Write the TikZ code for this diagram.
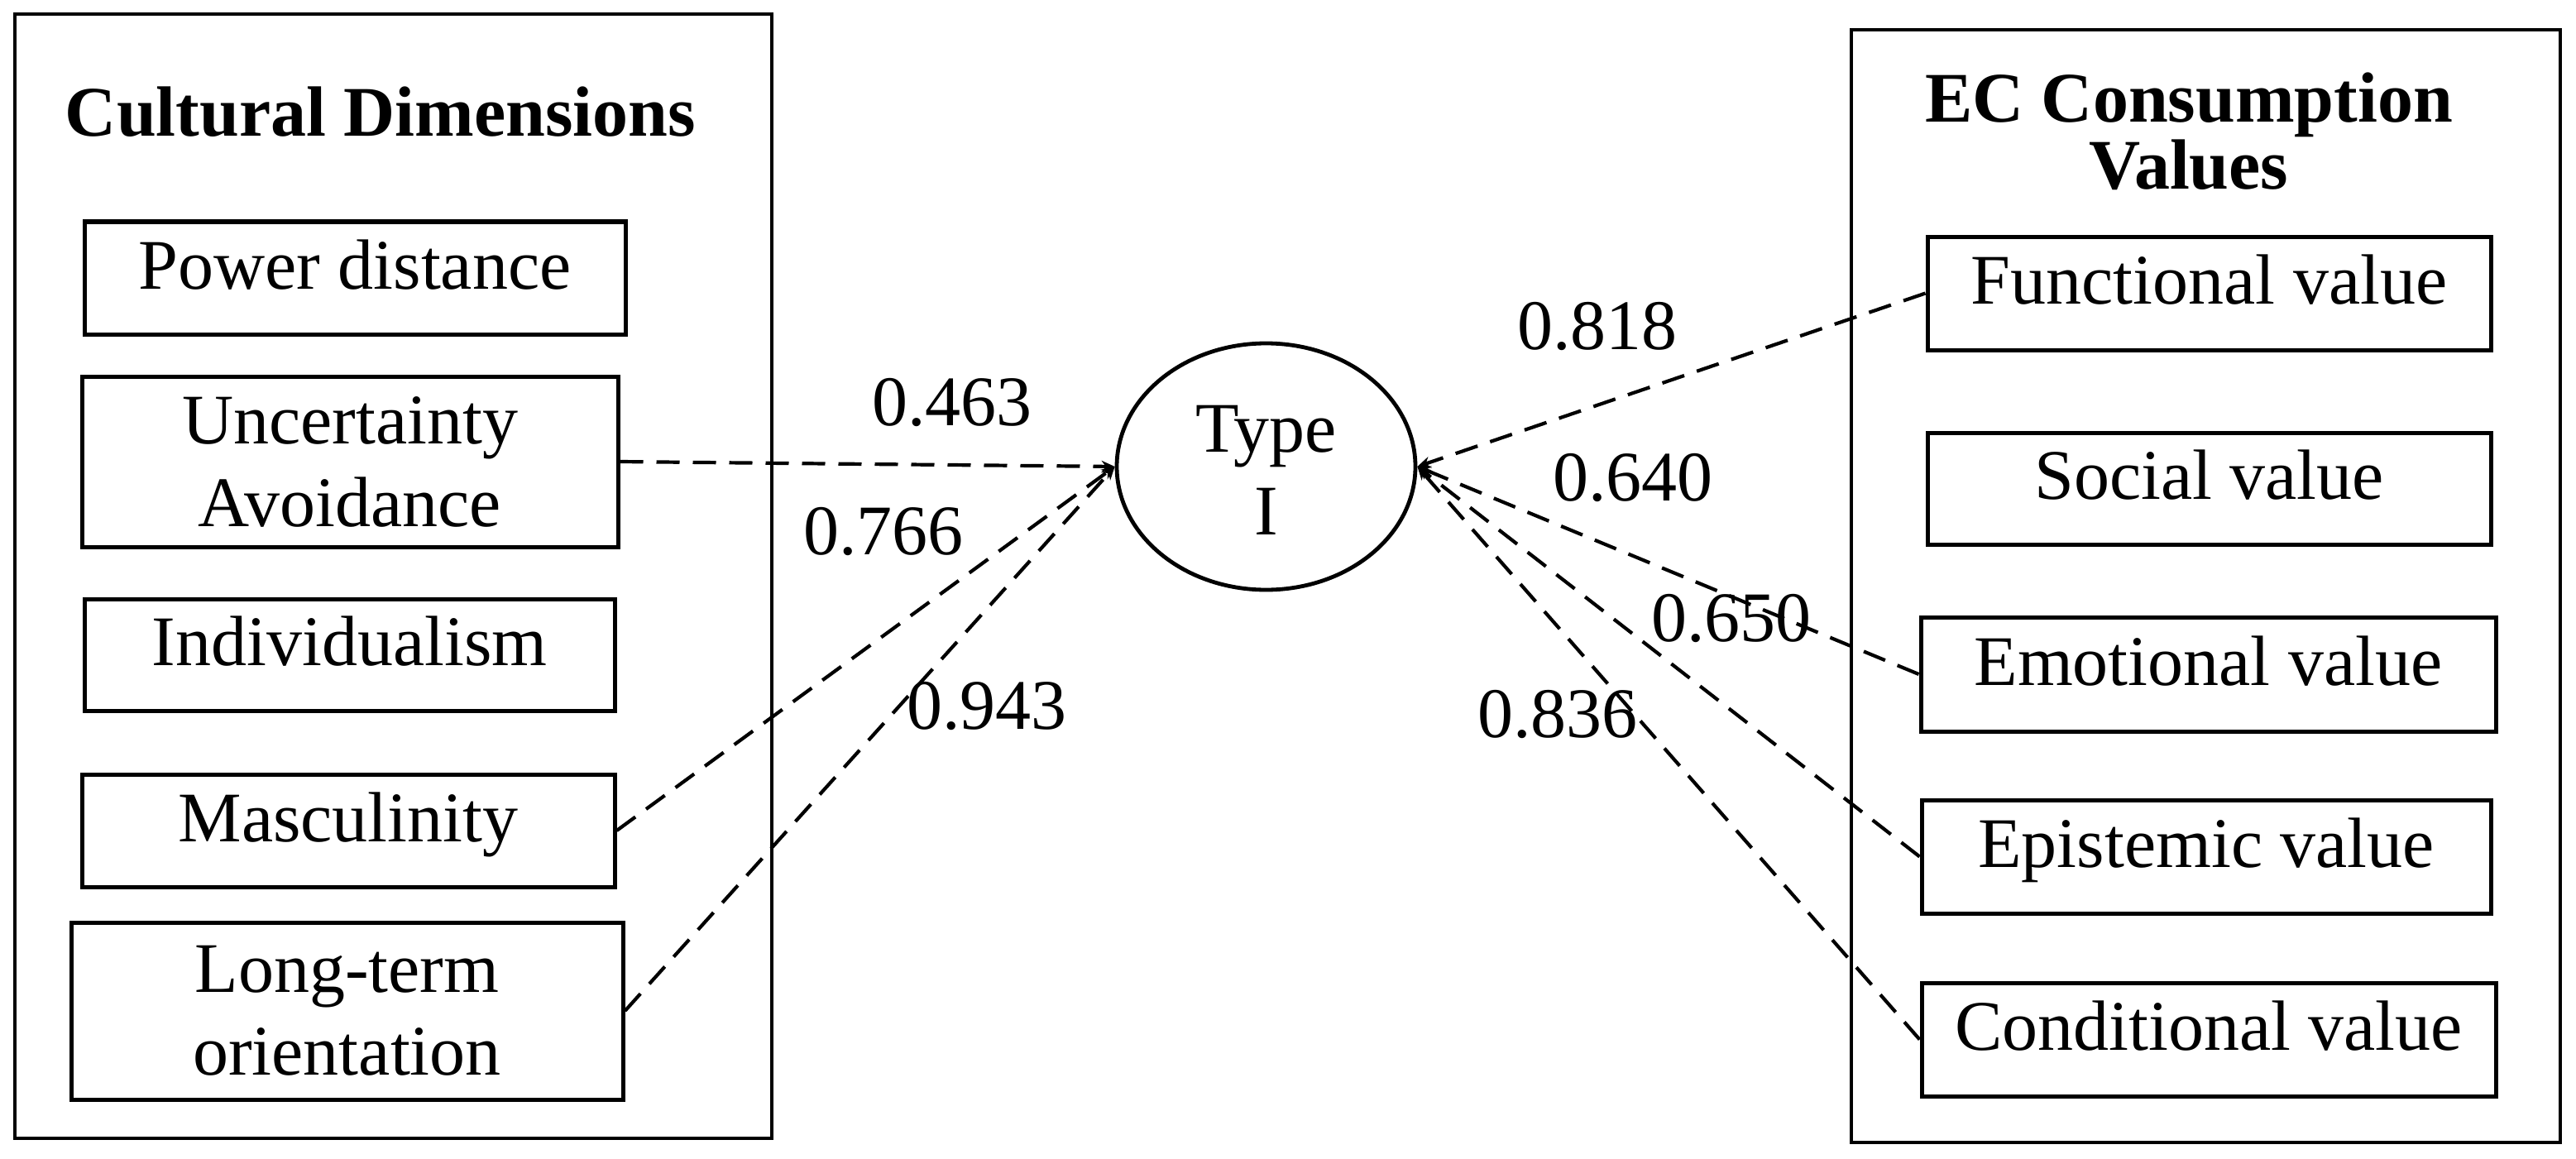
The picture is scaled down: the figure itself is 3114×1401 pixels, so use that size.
\documentclass[tikz,border=0pt]{standalone}
\usepackage{fontspec}
\setmainfont{Liberation Serif}
\usetikzlibrary{shapes.geometric,arrows.meta}
\tikzset{
  txt/.style={font=\fontsize{21.5pt}{25pt}\selectfont},
  frame/.style={draw, line width=1.2pt, inner sep=0pt},
  onebox/.style={txt, draw, line width=1.25pt, inner sep=0pt, text height=16pt, text depth=9.5pt},
  twobox/.style={txt, draw, line width=1.25pt, inner sep=0pt, align=center},
  conn/.style={dash pattern=on 7pt off 4pt, line width=1.05pt, -{Stealth[length=4pt,width=3.5pt]}},
  lab/.style={txt, inner sep=0pt, anchor=base},
  ttl/.style={font=\fontsize{21.5pt}{25pt}\selectfont\bfseries, inner sep=0pt, align=center},
}
\begin{document}
\begin{tikzpicture}[x=0.25pt,y=-0.25pt]
\useasboundingbox (0,0) rectangle (3114,1401);
% frames
\node[frame, minimum width=228.75pt, minimum height=339.75pt] (lframe) at (475.5,696.5) {};
\node[frame, minimum width=214.25pt, minimum height=336.25pt] (rframe) at (2666.5,708.5) {};
% titles
\node[ttl, anchor=base] (ltitle) at (460,165) {Cultural Dimensions};
\node[ttl] (rtitle) at (2646,159) {EC Consumption\\[-4.8pt]Values};
% left boxes
\node[onebox, minimum width=163.5pt, minimum height=34pt] (pd) at (429,336) {Power distance};
\node[twobox, minimum width=162pt, minimum height=51.5pt] (ua) at (423,558) {Uncertainty\\Avoidance};
\node[onebox, minimum width=160.25pt, minimum height=33.75pt] (ind) at (422.5,791.5) {Individualism};
\node[onebox, minimum width=161pt, minimum height=34pt] (mas) at (421,1004) {Masculinity};
\node[twobox, minimum width=166.75pt, minimum height=53.5pt] (lto) at (419.5,1222) {Long-term\\orientation};
% right boxes
\node[onebox, minimum width=170.25pt, minimum height=34.25pt] (fv) at (2670.5,354.5) {Functional value};
\node[onebox, minimum width=170.25pt, minimum height=33.75pt] (sv) at (2670.5,590.5) {Social value};
\node[onebox, minimum width=173.75pt, minimum height=34.5pt] (ev) at (2669.5,815) {Emotional value};
\node[onebox, minimum width=172pt, minimum height=34.25pt] (epv) at (2667,1035.5) {Epistemic value};
\node[onebox, minimum width=173.5pt, minimum height=34.25pt] (cv) at (2670,1256.5) {Conditional value};
% central ellipse
\node[txt, draw, ellipse, line width=1.2pt, inner sep=0pt, align=center, minimum width=90.25pt, minimum height=74.5pt] (t1) at (1530.5,564) {\rule{0pt}{16pt}Type\\I};
% connectors
\draw[conn] (ua.east) -- (t1.west);
\draw[conn] (mas.east) -- (t1.west);
\draw[conn] (lto.east) -- (t1.west);
\draw[conn] (fv.west) -- (t1.east);
\draw[conn] (ev.west) -- (t1.east);
\draw[conn] (epv.west) -- (t1.east);
\draw[conn] (cv.west) -- (t1.east);
% loadings
\node[lab] (l463) at (1151,514) {0.463};
\node[lab] (l766) at (1068,670) {0.766};
\node[lab] (l943) at (1193,881) {0.943};
\node[lab] (l818) at (1931,422) {0.818};
\node[lab] (l640) at (1974,605) {0.640};
\node[lab] (l650) at (2093,775) {0.650};
\node[lab] (l836) at (1883,891) {0.836};
\end{tikzpicture}
\end{document}
